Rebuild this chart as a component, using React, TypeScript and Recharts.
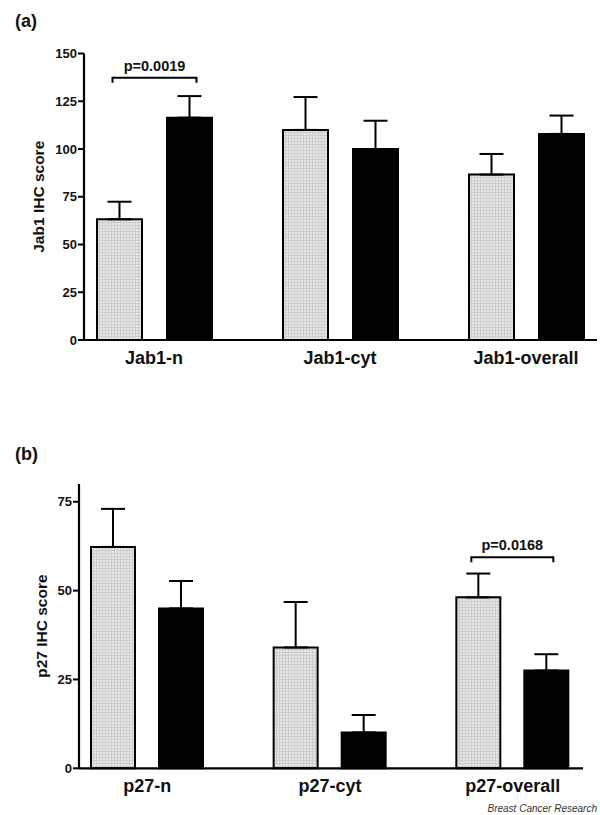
import React from 'react';
import { BarChart, Bar, XAxis, YAxis, ErrorBar, LabelList } from 'recharts';

// ---------- Panel (a): Jab1 ----------
const jabCategories = ['Jab1-n', 'Jab1-cyt', 'Jab1-overall'];
const jabGrayValues = [63.2, 110.0, 86.6];
const jabGrayErrors = [9.2, 17.2, 10.8];
const jabBlackValues = [116.4, 100.0, 107.9];
const jabBlackErrors = [11.3, 14.8, 9.6];
const jabTicks = [0, 25, 50, 75, 100, 125, 150];
const jabPTexts = ['p=0.0019', '', ''];
const jabPLevels = [137.3, null, null];

// ---------- Panel (b): p27 ----------
const p27Categories = ['p27-n', 'p27-cyt', 'p27-overall'];
const p27GrayValues = [62.3, 34.0, 48.1];
const p27GrayErrors = [10.7, 12.8, 6.7];
const p27BlackValues = [45.0, 10.1, 27.5];
const p27BlackErrors = [7.7, 4.9, 4.6];
const p27Ticks = [0, 25, 50, 75];
const p27PTexts = ['', '', 'p=0.0168'];
const p27PLevels = [null, null, 59.4];

const FONT = "'Liberation Sans', Arial, Helvetica, sans-serif";

function buildRows(cats: string[], gv: number[], ge: number[], bv: number[], be: number[], pt: string[], pl: (number | null)[]) {
  return cats.map((c, i) => ({
    name: c,
    gray: gv[i],
    grayErr: [0, ge[i]],
    black: bv[i],
    blackErr: [0, be[i]],
    pText: pt[i],
    pLevel: pl[i],
  }));
}

const jabData = buildRows(jabCategories, jabGrayValues, jabGrayErrors, jabBlackValues, jabBlackErrors, jabPTexts, jabPLevels);
const p27Data = buildRows(p27Categories, p27GrayValues, p27GrayErrors, p27BlackValues, p27BlackErrors, p27PTexts, p27PLevels);

function makeBracket(data: any[], gap: number) {
  return (props: any) => {
    const vb = props.viewBox || props;
    const x = Number(vb.x ?? props.x);
    const y = Number(vb.y ?? props.y);
    const width = Number(vb.width ?? props.width);
    const height = Number(vb.height ?? props.height);
    const index = props.index;
    const row = data[index];
    if (!row || !row.pText || row.pLevel == null) return null;
    const ppu = height / row.gray;
    const zeroY = y + height;
    const by = zeroY - row.pLevel * ppu;
    const x1 = x + width / 2 - 7;
    const x2 = x + width + gap + width / 2 + 7;
    return (
      <g>
        <path d={`M${x1},${by + 5} V${by} H${x2} V${by + 5}`} stroke="#000" strokeWidth={2} fill="none" />
        <text x={(x1 + x2) / 2} y={by - 7} textAnchor="middle" fontFamily={FONT} fontWeight="bold" fontSize={14.5} fill="#111">
          {row.pText}
        </text>
      </g>
    );
  };
}

const CatTick = (props: any) => {
  const { x, y, payload } = props;
  return (
    <text x={x} y={y + 24} textAnchor="middle" fontFamily={FONT} fontWeight="bold" fontSize={18} fill="#111">
      {payload.value}
    </text>
  );
};

function yLabel(text: string, cx: number) {
  return (props: any) => {
    const vb = props.viewBox || {};
    const cy = vb.y + vb.height / 2;
    return (
      <text x={cx} y={cy} transform={`rotate(-90, ${cx}, ${cy})`} textAnchor="middle" dominantBaseline="central" fontFamily={FONT} fontWeight="bold" fontSize={15.5} fill="#111">
        {text}
      </text>
    );
  };
}

function Patterns({ id }: { id: string }) {
  return (
    <defs>
      <pattern id={id} width={3} height={3} patternUnits="userSpaceOnUse">
        <rect width={3} height={3} fill="#e6e6e6" />
        <path d="M0,0.5 H3 M0.5,0 V3" stroke="#cdcdcd" strokeWidth={1} />
      </pattern>
    </defs>
  );
}

export default function App() {
  const axisLine = { stroke: '#000', strokeWidth: 2.2 };
  const yTick = { fill: '#111', fontSize: 13, fontWeight: 'bold', fontFamily: FONT };
  return (
    <div style={{ position: 'absolute', left: 0, top: 0, width: 600, height: 815, background: '#fff', fontFamily: FONT }}>
      <div style={{ position: 'absolute', left: 15, top: 11, fontSize: 18, fontWeight: 'bold', color: '#111' }}>(a)</div>
      <div style={{ position: 'absolute', left: 15, top: 444, fontSize: 18, fontWeight: 'bold', color: '#111' }}>(b)</div>

      <div style={{ position: 'absolute', left: 0, top: 0 }}>
        <BarChart width={600} height={400} data={jabData} margin={{ top: 53.5, right: 3, left: 0, bottom: 0 }} barGap={25}>
          <Patterns id="gridA" />
          <XAxis dataKey="name" height={60} axisLine={axisLine} tickLine={false} tickSize={0} tickMargin={0} tick={<CatTick />} padding={{ left: -23, right: -22 }} interval={0} />
          <YAxis width={84} domain={[0, 150]} ticks={jabTicks} axisLine={axisLine} tickLine={{ stroke: '#000', strokeWidth: 2 }} tickSize={6} tickMargin={1} tick={yTick} label={{ content: yLabel('Jab1 IHC score', 38) }} interval={0} />
          <Bar dataKey="gray" fill="url(#gridA)" stroke="#000" strokeWidth={2} barSize={45} isAnimationActive={false}>
            <ErrorBar dataKey="grayErr" width={12} stroke="#000" strokeWidth={2} direction="y" />
            <LabelList dataKey="pText" content={makeBracket(jabData, 25)} />
          </Bar>
          <Bar dataKey="black" fill="#000" stroke="#000" strokeWidth={2} barSize={45} isAnimationActive={false}>
            <ErrorBar dataKey="blackErr" width={12} stroke="#000" strokeWidth={2} direction="y" />
          </Bar>
        </BarChart>
      </div>

      <div style={{ position: 'absolute', left: 0, top: 400 }}>
        <BarChart width={600} height={415} data={p27Data} margin={{ top: 84, right: 17, left: 0, bottom: 0 }} barGap={24}>
          <Patterns id="gridB" />
          <XAxis dataKey="name" height={46.7} axisLine={axisLine} tickLine={false} tickSize={0} tickMargin={0} tick={<CatTick />} padding={{ left: -23, right: -21 }} interval={0} />
          <YAxis width={79} domain={[0, 80]} ticks={p27Ticks} axisLine={axisLine} tickLine={{ stroke: '#000', strokeWidth: 2 }} tickSize={6} tickMargin={1} tick={yTick} label={{ content: yLabel('p27 IHC score', 42) }} interval={0} />
          <Bar dataKey="gray" fill="url(#gridB)" stroke="#000" strokeWidth={2} barSize={44} isAnimationActive={false}>
            <ErrorBar dataKey="grayErr" width={12} stroke="#000" strokeWidth={2} direction="y" />
            <LabelList dataKey="pText" content={makeBracket(p27Data, 24)} />
          </Bar>
          <Bar dataKey="black" fill="#000" stroke="#000" strokeWidth={2} barSize={44} isAnimationActive={false}>
            <ErrorBar dataKey="blackErr" width={12} stroke="#000" strokeWidth={2} direction="y" />
          </Bar>
        </BarChart>
      </div>

      <div style={{ position: 'absolute', right: 3, top: 803, fontSize: 10, fontStyle: 'italic', color: '#333' }}>Breast Cancer Research</div>
    </div>
  );
}
